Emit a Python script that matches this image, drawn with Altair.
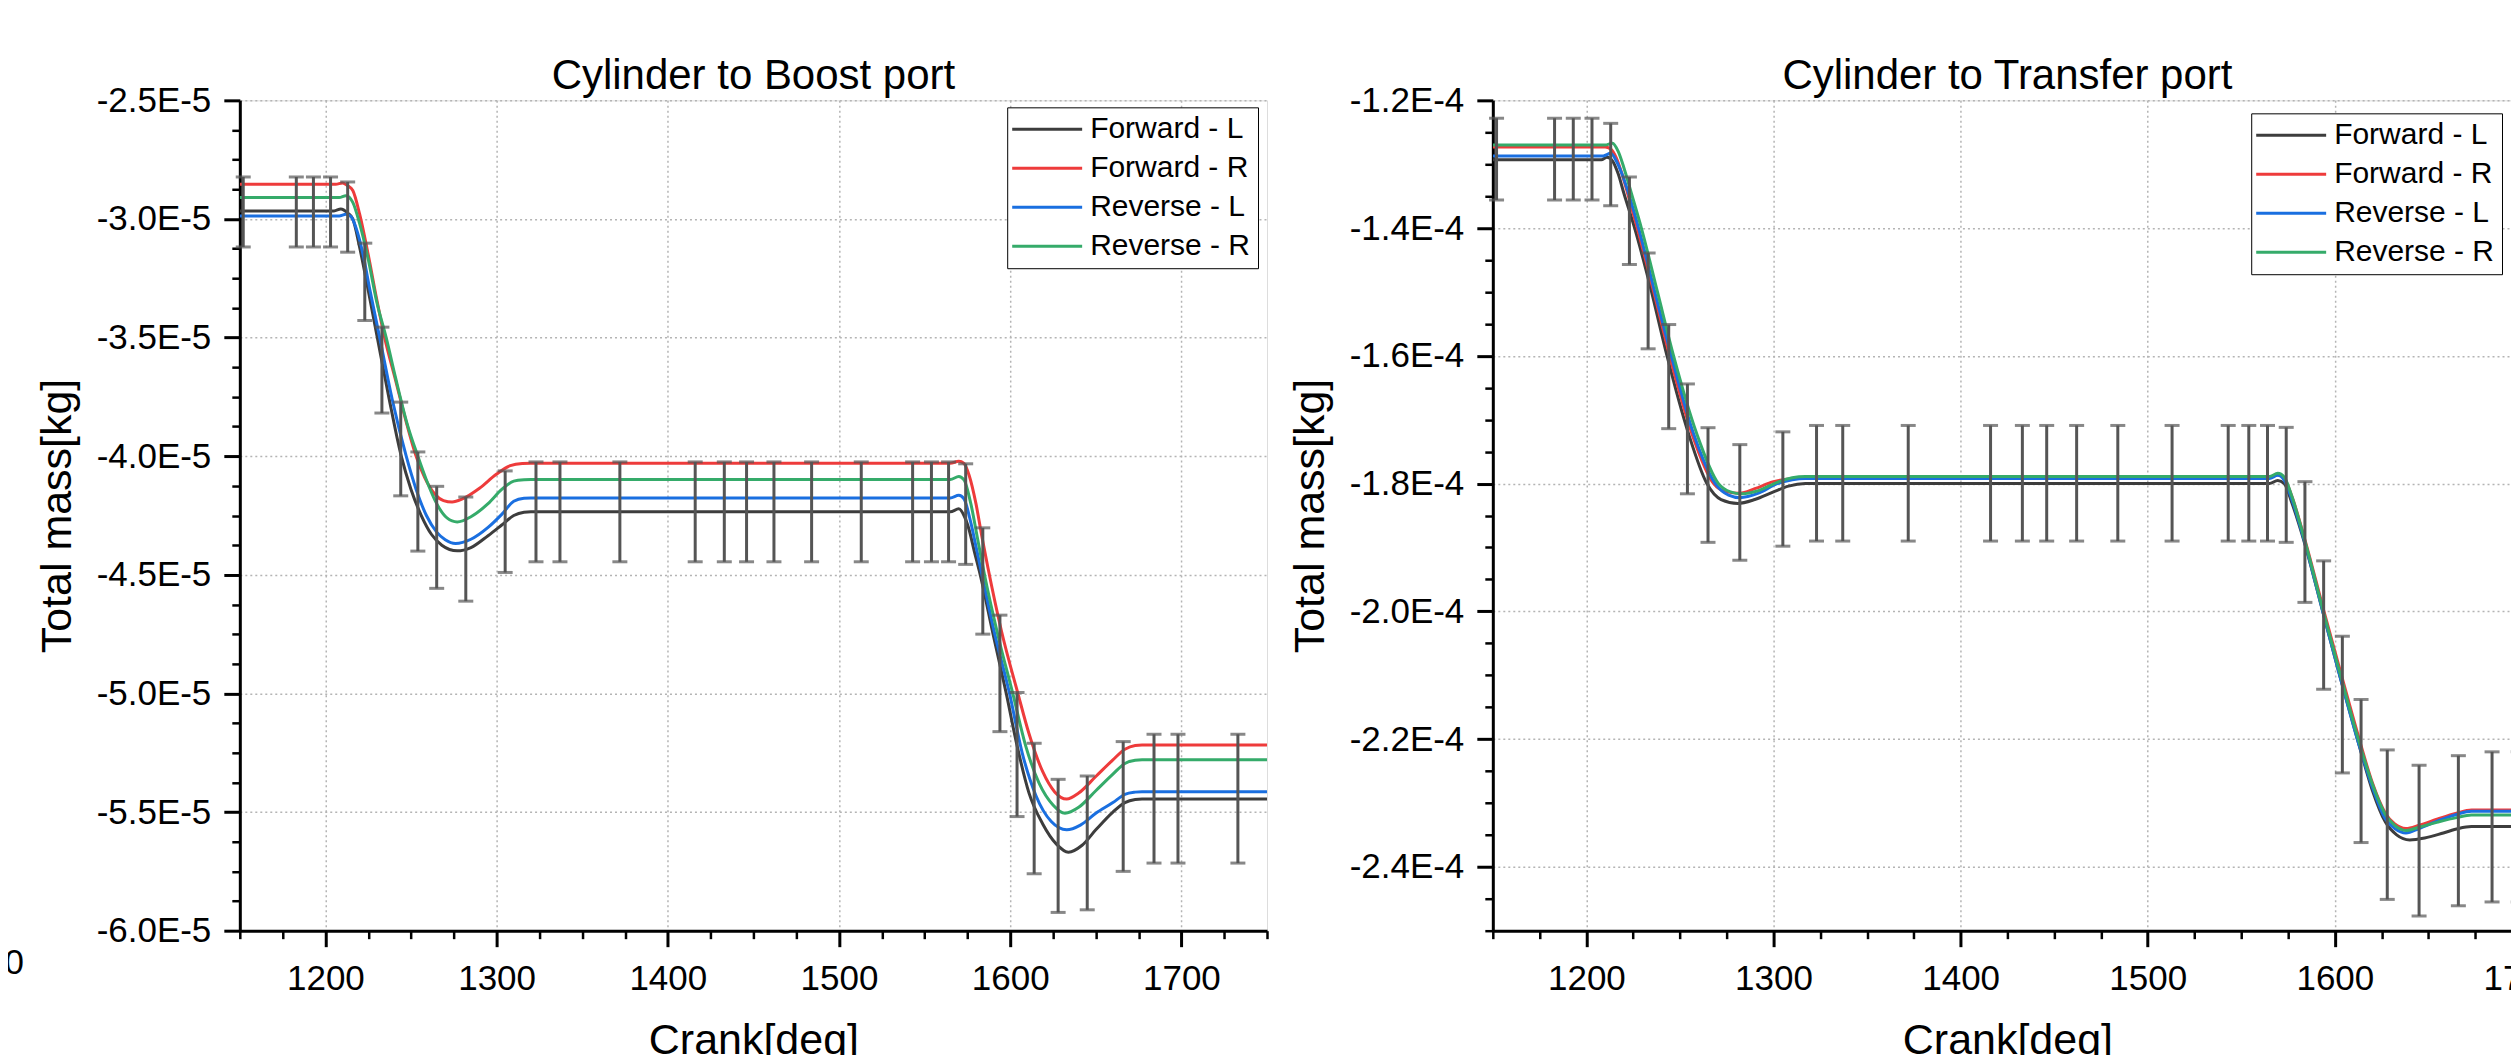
import altair as alt
import pandas as pd

FONT = "Liberation Sans"
SERIES = ["Forward - L", "Forward - R", "Reverse - L", "Reverse - R"]
COLORS = ["#3d3d3d", "#ee3b3b", "#1a6fe0", "#35ab6a"]
ERR_COLOR = "#555555"
X_MAJOR = [1200, 1300, 1400, 1500, 1600, 1700]

# ---------------- Cylinder to Boost port (mass in 1E-5 kg) ----------------
boost_unit = 1e-5
boost_y_major = [-2.5e-5, -3.0e-5, -3.5e-5, -4.0e-5, -4.5e-5, -5.0e-5, -5.5e-5, -6.0e-5]
boost_y_range = [-6.0e-5, -2.5e-5]

boost_fl_x = [1150, 1205, 1209, 1213, 1216, 1220, 1225, 1230.3, 1237, 1244.3, 1250, 1256, 1262, 1268,
              1277, 1285, 1295, 1303, 1310, 1316, 1320, 1565, 1570, 1573, 1576, 1579, 1582.5, 1590,
              1597.7, 1604, 1611, 1619, 1627, 1634, 1642, 1650, 1660, 1667, 1673, 1677, 1750]
boost_fl_y = [-2.966, -2.966, -2.958, -2.975, -3.0, -3.12, -3.3, -3.5, -3.75, -4.0, -4.14, -4.25, -4.33, -4.375,
              -4.399, -4.385, -4.335, -4.29, -4.25, -4.236, -4.234, -4.234, -4.222, -4.25, -4.31, -4.40, -4.5, -4.75,
              -5.0, -5.22, -5.42, -5.55, -5.635, -5.669, -5.64, -5.575, -5.50, -5.46, -5.447, -5.445, -5.445]

boost_fr_x = [1150, 1206, 1210, 1213, 1216, 1220, 1225, 1230, 1234.6, 1241, 1247, 1253, 1258, 1264, 1269,
              1274, 1280, 1290, 1300, 1308, 1315, 1320, 1565, 1570, 1573, 1576, 1580, 1583.5, 1587, 1595,
              1604.5, 1611, 1619, 1626, 1633, 1640, 1650, 1660, 1667, 1673, 1677, 1750]
boost_fr_y = [-2.854, -2.854, -2.848, -2.86, -2.88, -2.98, -3.15, -3.34, -3.5, -3.68, -3.85, -4.0, -4.09, -4.16, -4.187,
              -4.193, -4.18, -4.135, -4.075, -4.04, -4.031, -4.03, -4.03, -4.021, -4.03, -4.08, -4.2, -4.34, -4.47, -4.74,
              -5.0, -5.17, -5.33, -5.415, -5.445, -5.42, -5.35, -5.28, -5.235, -5.219, -5.217, -5.217]

boost_rl_x = [1150, 1208, 1212, 1215, 1218, 1222, 1226, 1231.7, 1239, 1247.2, 1253, 1259, 1265, 1270, 1276,
              1285, 1295, 1303, 1310, 1316, 1320, 1565, 1570, 1573, 1577, 1580, 1583.5, 1591, 1599.6, 1607,
              1615, 1624, 1633, 1641, 1650, 1660, 1667, 1673, 1677, 1750]
boost_rl_y = [-2.987, -2.987, -2.98, -2.99, -3.04, -3.15, -3.3, -3.5, -3.76, -4.0, -4.14, -4.25, -4.32, -4.352, -4.368,
              -4.35, -4.30, -4.245, -4.19, -4.177, -4.176, -4.176, -4.165, -4.18, -4.28, -4.38, -4.5, -4.75, -5.0, -5.25,
              -5.43, -5.54, -5.575, -5.555, -5.505, -5.46, -5.425, -5.416, -5.414, -5.414]

boost_rr_x = [1150, 1208, 1212, 1216, 1220, 1225, 1230, 1235.5, 1241, 1248, 1254, 1259, 1265, 1271, 1277,
              1285, 1295, 1303, 1310, 1316, 1320, 1565, 1570, 1573, 1577, 1581, 1585, 1593, 1601.5, 1609,
              1617, 1625, 1632, 1640, 1650, 1660, 1667, 1673, 1677, 1750]
boost_rr_y = [-2.91, -2.91, -2.902, -2.93, -3.02, -3.17, -3.35, -3.5, -3.67, -3.87, -4.0, -4.1, -4.2, -4.26, -4.277,
              -4.255, -4.2, -4.14, -4.105, -4.099, -4.098, -4.098, -4.086, -4.10, -4.2, -4.35, -4.5, -4.76, -5.0, -5.22,
              -5.38, -5.47, -5.505, -5.48, -5.41, -5.34, -5.295, -5.282, -5.28, -5.28]

# error bars (drawn on Forward - L)
err_x = [1152, 1183, 1193, 1203, 1213, 1223, 1233, 1244, 1254, 1265, 1282, 1305,
         1323, 1337, 1372, 1416, 1433, 1446, 1462, 1484, 1513, 1543, 1554, 1564,
         1574, 1584, 1594, 1604, 1614, 1628, 1645, 1666, 1684, 1698, 1733]
boost_err_hi = [-2.823, -2.823, -2.823, -2.823, -2.844, -3.102, -3.456, -3.772, -3.982, -4.127, -4.172, -4.062,
                -4.024, -4.024, -4.024, -4.024, -4.024, -4.024, -4.024, -4.024, -4.024, -4.024, -4.024, -4.024,
                -4.032, -4.302, -4.67, -4.996, -5.21, -5.362, -5.348, -5.203, -5.172, -5.172, -5.172]
boost_err_lo = [-3.118, -3.118, -3.118, -3.118, -3.14, -3.428, -3.818, -4.167, -4.40, -4.557, -4.611, -4.49,
                -4.445, -4.445, -4.445, -4.445, -4.445, -4.445, -4.445, -4.445, -4.445, -4.445, -4.445, -4.445,
                -4.456, -4.75, -5.161, -5.519, -5.76, -5.923, -5.912, -5.75, -5.715, -5.715, -5.715]

# ---------------- Cylinder to Transfer port (mass in 1E-4 kg) ----------------
transfer_unit = 1e-4
transfer_y_major = [-1.2e-4, -1.4e-4, -1.6e-4, -1.8e-4, -2.0e-4, -2.2e-4, -2.4e-4]
transfer_y_range = [-2.5e-4, -1.2e-4]

transfer_fl_x = [1150, 1208, 1211, 1214, 1217, 1220, 1225.8, 1234, 1243.1, 1254.6, 1264.4, 1272, 1281, 1290,
                 1300, 1308, 1317, 1565, 1569.5, 1573, 1577, 1584, 1593.5, 1603, 1612.5, 1620, 1627, 1633,
                 1640, 1648, 1658, 1666, 1673, 1700]
transfer_fl_y = [-1.293, -1.293, -1.289, -1.295, -1.315, -1.345, -1.40, -1.49, -1.60, -1.722, -1.80, -1.825, -1.831, -1.825,
                 -1.813, -1.804, -1.80, -1.80, -1.795, -1.80, -1.83, -1.895, -2.0, -2.105, -2.205, -2.28, -2.33, -2.35,
                 -2.358, -2.355, -2.347, -2.34, -2.337, -2.337]

transfer_fr_x = [1150, 1210, 1213, 1216, 1219, 1222, 1227.2, 1236, 1244.5, 1256.4, 1268, 1275, 1282, 1290,
                 1300, 1310, 1317, 1565, 1569.5, 1573, 1577, 1584, 1594, 1603.5, 1613, 1620, 1627, 1632,
                 1638, 1645, 1655, 1665, 1673, 1700]
transfer_fr_y = [-1.273, -1.273, -1.276, -1.29, -1.315, -1.345, -1.40, -1.50, -1.60, -1.722, -1.80, -1.813, -1.815, -1.808,
                 -1.797, -1.792, -1.791, -1.791, -1.786, -1.792, -1.82, -1.888, -1.998, -2.10, -2.20, -2.268, -2.316, -2.333,
                 -2.340, -2.335, -2.325, -2.316, -2.311, -2.311]

transfer_rl_x = [1150, 1209, 1213, 1216, 1219, 1223, 1227.9, 1237, 1245.4, 1257.3, 1268.9, 1276, 1282, 1292,
                 1302, 1310, 1317, 1565, 1569.5, 1573, 1577, 1584, 1593.5, 1603, 1612.5, 1620, 1627, 1632,
                 1638, 1645, 1655, 1665, 1673, 1700]
transfer_rl_y = [-1.287, -1.287, -1.283, -1.295, -1.315, -1.35, -1.40, -1.505, -1.60, -1.722, -1.80, -1.818, -1.822, -1.815,
                 -1.80, -1.794, -1.792, -1.792, -1.787, -1.795, -1.825, -1.893, -2.0, -2.105, -2.205, -2.275, -2.325, -2.34,
                 -2.347, -2.34, -2.328, -2.318, -2.313, -2.313]

transfer_rr_x = [1150, 1210, 1214, 1217, 1220, 1224, 1229.4, 1238, 1246.6, 1259, 1270.6, 1277, 1283, 1292,
                 1302, 1310, 1317, 1565, 1569.5, 1573, 1577, 1584, 1593.8, 1603, 1612.5, 1620, 1627, 1632,
                 1638, 1645, 1655, 1665, 1673, 1700]
transfer_rr_y = [-1.27, -1.27, -1.267, -1.28, -1.305, -1.345, -1.40, -1.50, -1.60, -1.722, -1.80, -1.813, -1.816, -1.811,
                 -1.798, -1.791, -1.789, -1.789, -1.784, -1.79, -1.82, -1.89, -2.0, -2.10, -2.2, -2.27, -2.318, -2.335,
                 -2.343, -2.338, -2.33, -2.323, -2.319, -2.319]

transfer_err_hi = [-1.228, -1.228, -1.228, -1.228, -1.236, -1.32, -1.439, -1.551, -1.644, -1.7125, -1.739, -1.719,
                   -1.709, -1.709, -1.709, -1.709, -1.709, -1.709, -1.709, -1.709, -1.709, -1.709, -1.709, -1.709,
                   -1.712, -1.797, -1.921, -2.039, -2.138, -2.217, -2.241, -2.226, -2.22, -2.22, -2.22]
transfer_err_lo = [-1.356, -1.356, -1.356, -1.356, -1.365, -1.457, -1.589, -1.714, -1.816, -1.892, -1.92, -1.898,
                   -1.89, -1.89, -1.89, -1.89, -1.89, -1.89, -1.89, -1.89, -1.89, -1.89, -1.89, -1.89,
                   -1.892, -1.986, -2.122, -2.253, -2.362, -2.451, -2.477, -2.461, -2.455, -2.455, -2.455]

PLOT_H = 831
Y_LABEL_EXPR = "'-' + replace(format(abs(datum.value), '.1e'), 'e', 'E')"


def make_panel(title, unit, xs, ys, e_hi, e_lo, x_max, y_major, y_range, y_minor_step, width,
               legend_x, legend_y, stub=False):
    rows = []
    for name, sx, sy in zip(SERIES, xs, ys):
        for a, b in zip(sx, sy):
            rows.append({"series": name, "crank": a, "mass": b * unit})
    df = pd.DataFrame(rows)
    edf = pd.DataFrame({"crank": err_x,
                        "hi": [v * unit for v in e_hi],
                        "lo": [v * unit for v in e_lo]})
    edf = edf[edf["crank"] <= x_max]

    y_bot, y_top = y_range
    n_minor = int(round((y_top - y_bot) / (y_minor_step * unit)))
    y_minor = [y_top - k * y_minor_step * unit for k in range(n_minor + 1) if k % 4 != 0]
    x_minor = [1150 + 25 * k for k in range(int((x_max - 1150) / 25) + 1) if (1150 + 25 * k) not in X_MAJOR]

    xscale = alt.Scale(domain=[1150, x_max], nice=False, zero=False)
    yscale = alt.Scale(domain=[y_bot, y_top], nice=False, zero=False)

    x_axis = alt.Axis(values=X_MAJOR, format="d", title="Crank[deg]", grid=True,
                      gridColor="#b4b4b4", gridDash=[2, 3], gridWidth=1.5,
                      tickSize=16, tickWidth=3, tickColor="black",
                      domainColor="black", domainWidth=3,
                      labelFont=FONT, labelFontSize=35, labelColor="black", labelPadding=15,
                      labelFlush=False, labelOverlap=False,
                      titleFont=FONT, titleFontSize=43, titleFontWeight="normal", titleColor="black",
                      titlePadding=23)
    y_axis = alt.Axis(values=y_major, labelExpr=Y_LABEL_EXPR, title="Total mass[kg]", grid=True,
                      gridColor="#b4b4b4", gridDash=[2, 3], gridWidth=1.5,
                      tickSize=16, tickWidth=3, tickColor="black",
                      domainColor="black", domainWidth=3,
                      labelFont=FONT, labelFontSize=35, labelColor="black", labelPadding=13,
                      labelFlush=False, labelOverlap=False,
                      titleFont=FONT, titleFontSize=43, titleFontWeight="normal", titleColor="black",
                      titlePadding=17)
    x_minor_axis = alt.Axis(values=x_minor, orient="bottom", labels=False, title=None, grid=False, domain=False,
                            tickSize=8, tickWidth=2.5, tickColor="black")
    y_minor_axis = alt.Axis(values=y_minor, orient="left", labels=False, title=None, grid=False, domain=False,
                            tickSize=8, tickWidth=2.5, tickColor="black")

    legend = alt.Legend(orient="none", legendX=legend_x, legendY=legend_y, title=None, direction="vertical",
                        labelFont=FONT, labelFontSize=30, labelColor="black", labelLimit=400,
                        symbolType="M-5,0H5", symbolSize=196, symbolStrokeWidth=3, symbolOffset=18,
                        labelOffset=28, rowPadding=9, padding=7,
                        strokeColor="black", fillColor="white", cornerRadius=0)

    lines = alt.Chart(df).mark_line(strokeWidth=3, interpolate="monotone", clip=True).encode(
        x=alt.X("crank:Q", scale=xscale, axis=x_axis),
        y=alt.Y("mass:Q", scale=yscale, axis=y_axis),
        color=alt.Color("series:N", scale=alt.Scale(domain=SERIES, range=COLORS), legend=legend),
    )
    rules = alt.Chart(edf).mark_rule(strokeWidth=3, color=ERR_COLOR).encode(
        x=alt.X("crank:Q", scale=xscale, axis=x_minor_axis),
        y=alt.Y("hi:Q", scale=yscale, axis=y_minor_axis),
        y2="lo:Q",
    )
    caps_hi = alt.Chart(edf).mark_tick(orient="horizontal", size=15, thickness=3, color=ERR_COLOR).encode(
        x=alt.X("crank:Q", scale=xscale, axis=None),
        y=alt.Y("hi:Q", scale=yscale, axis=None),
    )
    caps_lo = alt.Chart(edf).mark_tick(orient="horizontal", size=15, thickness=3, color=ERR_COLOR).encode(
        x=alt.X("crank:Q", scale=xscale, axis=None),
        y=alt.Y("lo:Q", scale=yscale, axis=None),
    )
    layers = [lines, rules, caps_hi, caps_lo]
    if stub:
        stub_txt = alt.Chart(pd.DataFrame({"t": ["00"]})).mark_text(
            align="left", baseline="middle", font=FONT, fontSize=35, color="black").encode(
            text="t:N", x=alt.value(-255), y=alt.value(863))
        layers.append(stub_txt)

    return alt.layer(*layers).resolve_axis(x="independent", y="independent").properties(
        width=width, height=PLOT_H,
        title=alt.TitleParams(text=title, font=FONT, fontSize=42, fontWeight="normal", color="black",
                              anchor="middle", frame="group", baseline="alphabetic", offset=-48),
    )


left = make_panel("Cylinder to Boost port", boost_unit,
                  [boost_fl_x, boost_fr_x, boost_rl_x, boost_rr_x],
                  [boost_fl_y, boost_fr_y, boost_rl_y, boost_rr_y],
                  boost_err_hi, boost_err_lo, 1750, boost_y_major, boost_y_range, 0.125, 1028, 768, 7,
                  stub=True)
right = make_panel("Cylinder to Transfer port", transfer_unit,
                   [transfer_fl_x, transfer_fr_x, transfer_rl_x, transfer_rr_x],
                   [transfer_fl_y, transfer_fr_y, transfer_rl_y, transfer_rr_y],
                   transfer_err_hi, transfer_err_lo, 1700, transfer_y_major, transfer_y_range, 0.05, 1030,
                   759, 13)

chart = alt.hconcat(left, right, spacing=226, bounds="flush").resolve_scale(
    x="independent", y="independent", color="independent"
).resolve_legend(color="independent").properties(
    padding={"left": -24, "top": 46, "right": -51, "bottom": 0}
).configure_view(stroke="black", strokeWidth=2.5).configure(background="white")

chart.save("out.html", embed_options={"renderer": "svg", "actions": False})
